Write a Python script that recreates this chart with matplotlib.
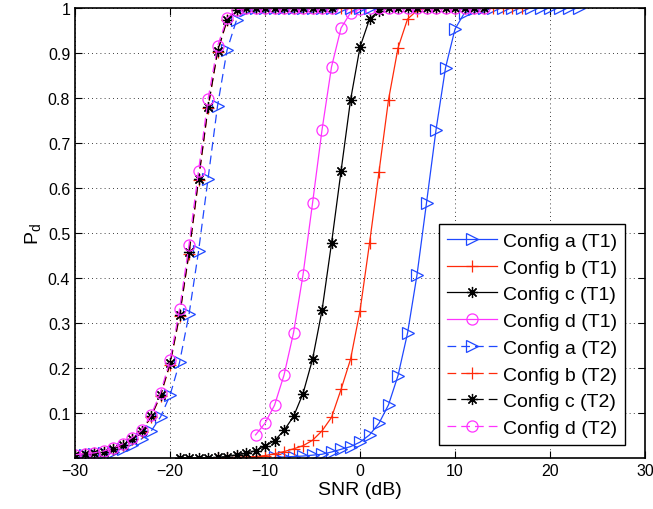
import numpy as np
import matplotlib
matplotlib.use("Agg")
import matplotlib.pyplot as plt

# ============================================================
# 1. DATA
# ============================================================

# SNR grid for each curve (1 dB steps)
snr_a_t1 = np.arange(-9, 24)
snr_b_t1 = np.arange(-15, 18)
snr_c_t1 = np.arange(-19, 14)
snr_d_t1 = np.arange(-11, 14)

snr_a_t2 = np.arange(-30, 2)
snr_b_t2 = np.arange(-30, 0)
snr_c_t2 = np.arange(-30, -2)
snr_d_t2 = np.arange(-30, -2)

pd_a_t1 = [0.002, 0.003, 0.004, 0.005, 0.007, 0.009, 0.014, 0.020, 0.026, 0.036,
           0.052, 0.078, 0.119, 0.184, 0.278, 0.408, 0.568, 0.730, 0.868, 0.954,
           0.990, 0.998, 1, 1, 1, 1, 1, 1, 1, 1, 1, 1, 1]
pd_b_t1 = [0.001, 0.001, 0.002, 0.003, 0.004, 0.006, 0.010, 0.015, 0.021, 0.028,
           0.040, 0.061, 0.091, 0.153, 0.220, 0.328, 0.478, 0.637, 0.797, 0.912,
           0.976, 0.995, 1, 1, 1, 1, 1, 1, 1, 1, 1, 1, 1]
pd_c_t1 = [0.001, 0.001, 0.001, 0.001, 0.002, 0.004, 0.0075, 0.011, 0.017, 0.027,
           0.039, 0.062, 0.093, 0.144, 0.220, 0.329, 0.478, 0.638, 0.796, 0.914,
           0.976, 0.995, 1, 1, 1, 1, 1, 1, 1, 1, 1, 1, 1]
pd_d_t1 = [0.052, 0.078, 0.118, 0.185, 0.279, 0.408, 0.567, 0.730, 0.870, 0.956,
           0.990, 0.998, 1, 1, 1, 1, 1, 1, 1, 1, 1, 1, 1, 1, 1]

pd_a_t2 = [0.005, 0.007, 0.009, 0.011, 0.015, 0.021, 0.030, 0.043, 0.060, 0.092,
           0.140, 0.213, 0.320, 0.460, 0.621, 0.783, 0.907, 0.974, 0.996,
           1, 1, 1, 1, 1, 1, 1, 1, 1, 1, 1, 1, 1]
pd_b_t2 = [0.007, 0.009, 0.011, 0.015, 0.021, 0.029, 0.042, 0.059, 0.092, 0.139,
           0.208, 0.316, 0.455, 0.618, 0.778, 0.903, 0.973, 0.996,
           1, 1, 1, 1, 1, 1, 1, 1, 1, 1, 1, 1]
pd_c_t2 = [0.007, 0.009, 0.011, 0.015, 0.021, 0.030, 0.043, 0.060, 0.093, 0.141,
           0.211, 0.318, 0.458, 0.621, 0.780, 0.904, 0.974, 0.996,
           1, 1, 1, 1, 1, 1, 1, 1, 1, 1]
pd_d_t2 = [0.008, 0.010, 0.012, 0.016, 0.023, 0.032, 0.046, 0.062, 0.096, 0.146,
           0.218, 0.331, 0.475, 0.639, 0.798, 0.916, 0.978, 0.997,
           1, 1, 1, 1, 1, 1, 1, 1, 1, 1]

x_ticks = [-30, -20, -10, 0, 10, 20, 30]
y_ticks = [0.1, 0.2, 0.3, 0.4, 0.5, 0.6, 0.7, 0.8, 0.9, 1.0]
y_tick_labels = ["0.1", "0.2", "0.3", "0.4", "0.5", "0.6", "0.7", "0.8", "0.9", "1"]

# ============================================================
# 2. PLOT
# ============================================================

plt.rcParams["font.family"] = ["Liberation Sans", "DejaVu Sans"]

blue = "#1f48ff"
red = "#ff2a0a"
black = "#000000"
magenta = "#ff33ff"
star = (8, 2, 0)
dash = (0, (7, 4))

fig = plt.figure(figsize=(6.53, 5.10), dpi=100)
ax = fig.add_axes([0.1149, 0.0994, 0.8729, 0.8824])

curves = [
    (snr_a_t1, pd_a_t1, blue, ">", "-", "Config a (T1)"),
    (snr_b_t1, pd_b_t1, red, "+", "-", "Config b (T1)"),
    (snr_c_t1, pd_c_t1, black, star, "-", "Config c (T1)"),
    (snr_d_t1, pd_d_t1, magenta, "o", "-", "Config d (T1)"),
    (snr_a_t2, pd_a_t2, blue, ">", dash, "Config a (T2)"),
    (snr_b_t2, pd_b_t2, red, "+", dash, "Config b (T2)"),
    (snr_c_t2, pd_c_t2, black, star, dash, "Config c (T2)"),
    (snr_d_t2, pd_d_t2, magenta, "o", dash, "Config d (T2)"),
]

for x, y, col, mk, ls, lab in curves:
    ax.plot(x, y, color=col, linestyle=ls, linewidth=0.9, marker=mk,
            markersize=8, markerfacecolor="none", markeredgecolor=col,
            markeredgewidth=0.9, label=lab)

ax.set_xlim(-30, 30)
ax.set_ylim(0, 1)
ax.set_xticks(x_ticks)
ax.set_yticks(y_ticks)
ax.set_yticklabels(y_tick_labels)
ax.tick_params(direction="in", top=True, right=True, length=5, labelsize=11.5)
ax.grid(True, linestyle=(0, (1, 4)), color="black", linewidth=0.6)
for sp in ax.spines.values():
    sp.set_linewidth(1.2)

ax.set_xlabel("SNR (dB)", fontsize=14, labelpad=2)
ax.set_ylabel(r"P$_\mathregular{d}$", fontsize=14, labelpad=3)

leg = ax.legend(loc="lower right", bbox_to_anchor=(0.965, 0.03), borderaxespad=0,
                fontsize=14, numpoints=1, handlelength=2.6, handletextpad=0.3,
                labelspacing=0.47, borderpad=0.4, fancybox=False, framealpha=1,
                edgecolor="black")
leg.get_frame().set_linewidth(1.0)

plt.savefig("out.png", dpi=100)
